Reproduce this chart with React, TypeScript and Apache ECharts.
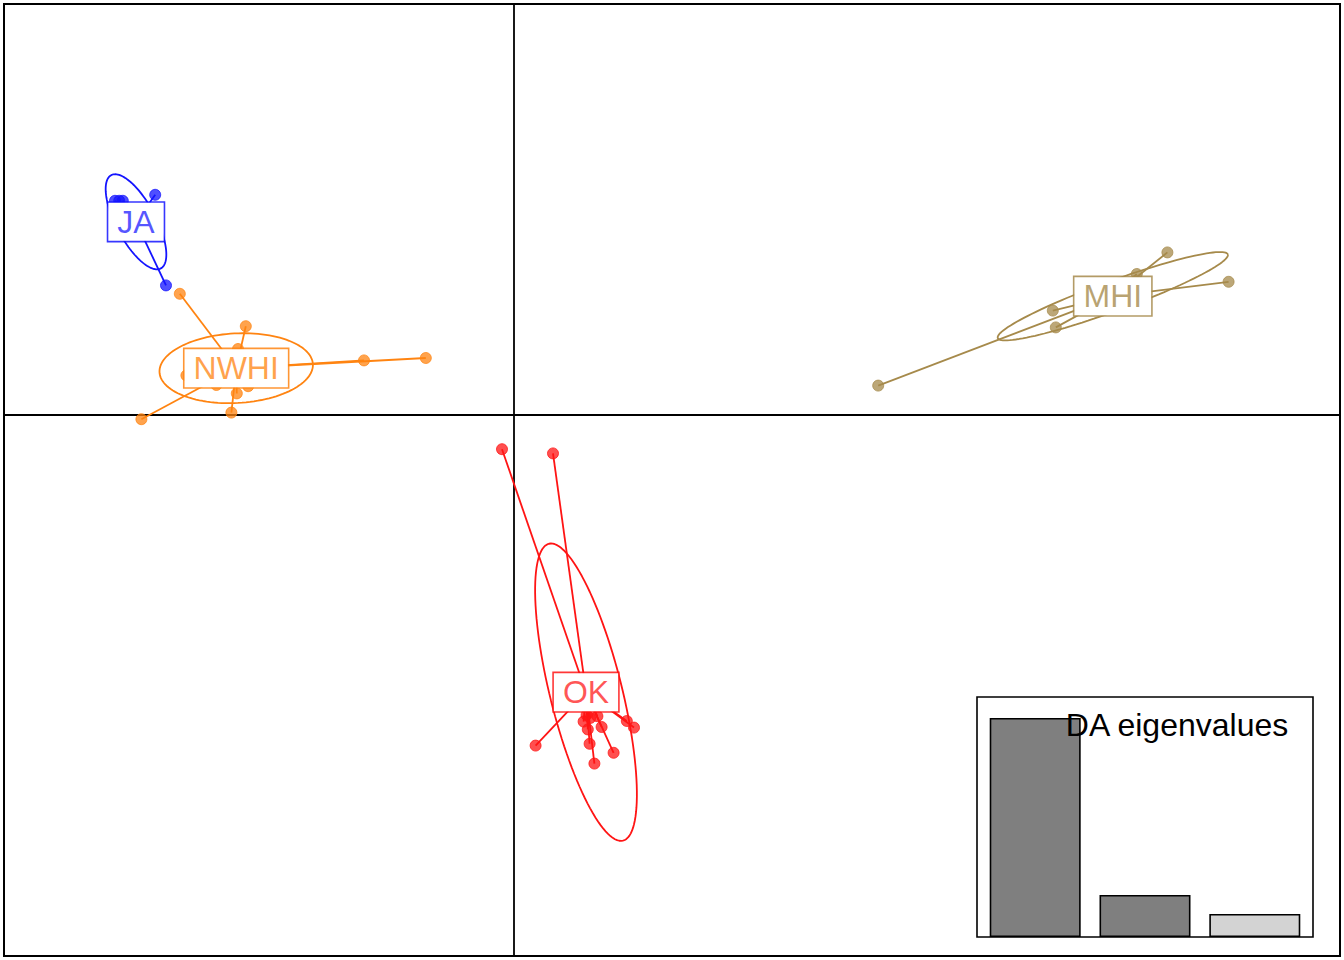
import React, { useEffect, useRef } from "react";
import * as echarts from "echarts";

// Group names and colours
const GROUPS = ["JA", "NWHI", "MHI", "OK"];
const COLORS = ["#1414ff", "#ff8411", "#a68a4b", "#ff1414"];
const LABEL_COLORS = ["rgba(20,20,255,0.72)", "rgba(255,132,17,0.75)", "rgba(166,138,75,0.78)", "rgba(255,20,20,0.72)"];
const BOX_COLORS = ["rgba(20,20,255,0.85)", "rgba(255,132,17,0.85)", "rgba(166,138,75,0.85)", "rgba(255,20,20,0.85)"];

// Group centroids (LD1, LD2)
const CENTROIDS: [number, number][] = [
  [-6.3, 3.22],
  [-4.63, 0.78],
  [9.98, 1.98],
  [1.2, -4.62],
];

// Individual scores (LD1, LD2)
const JA_POINTS: [number, number][] = [
  [-6.65, 3.57],
  [-6.58, 3.57],
  [-6.52, 3.57],
  [-5.98, 3.67],
  [-5.8, 2.16],
];
const NWHI_POINTS: [number, number][] = [
  [-5.57, 2.02],
  [-4.47, 1.48],
  [-4.6, 1.1],
  [-2.5, 0.91],
  [-1.47, 0.95],
  [-5.46, 0.66],
  [-4.96, 0.5],
  [-4.62, 0.36],
  [-4.43, 0.48],
  [-4.71, 0.04],
  [-6.21, -0.07],
];
const MHI_POINTS: [number, number][] = [
  [6.07, 0.49],
  [8.98, 1.74],
  [9.03, 1.46],
  [10.38, 2.35],
  [10.89, 2.71],
  [11.91, 2.22],
];
const OK_POINTS: [number, number][] = [
  [-0.2, -0.57],
  [0.65, -0.64],
  [0.36, -5.51],
  [1.16, -5.11],
  [1.23, -5.24],
  [1.26, -5.48],
  [1.34, -5.81],
  [1.39, -5.02],
  [1.46, -5.2],
  [1.66, -5.63],
  [1.88, -5.1],
  [2.0, -5.21],
  [1.21, -5.0],
  [1.27, -5.05],
];
const POINTS = [JA_POINTS, NWHI_POINTS, MHI_POINTS, OK_POINTS];

// Inertia ellipses: semi-axes and orientation (degrees)
const ELLIPSE_A = [0.88, 1.28, 2.04, 2.55];
const ELLIPSE_B = [0.33, 0.58, 0.25, 0.6];
const ELLIPSE_ANGLE = [-62, 3, 20, -76];

// DA eigenvalues inset
const EIG_POS = [0.7, 1.9, 3.1];
const EIGENVALUES = [21.9, 4.2, 2.3];
const EIG_COLORS = ["#7f7f7f", "#7f7f7f", "#d3d3d3"];

const X_MIN = -8.5;
const X_MAX = 13.7667;
const Y_MIN = -9.0167;
const Y_MAX = 6.85;

function ellipsePoints(i: number): [number, number][] {
  const [cx, cy] = CENTROIDS[i];
  const a = ELLIPSE_A[i];
  const b = ELLIPSE_B[i];
  const th = (ELLIPSE_ANGLE[i] * Math.PI) / 180;
  const out: [number, number][] = [];
  for (let k = 0; k <= 120; k++) {
    const t = (k / 120) * Math.PI * 2;
    out.push([
      cx + a * Math.cos(t) * Math.cos(th) - b * Math.sin(t) * Math.sin(th),
      cy + a * Math.cos(t) * Math.sin(th) + b * Math.sin(t) * Math.cos(th),
    ]);
  }
  return out;
}

export default function App() {
  const ref = useRef<HTMLDivElement>(null);
  useEffect(() => {
    if (!ref.current) return;
    const chart = echarts.init(ref.current, undefined, { renderer: "svg" });
    const FONT = "Liberation Sans";
    const series: any[] = [];
    GROUPS.forEach((g, i) => {
      series.push({
        type: "line",
        name: g + " ellipse",
        xAxisIndex: 0,
        yAxisIndex: 0,
        data: ellipsePoints(i),
        showSymbol: false,
        symbol: "none",
        smooth: false,
        lineStyle: { color: COLORS[i], width: 1.8 },
        z: 2,
        silent: true,
      });
      series.push({
        type: "lines",
        name: g + " stars",
        coordinateSystem: "cartesian2d",
        xAxisIndex: 0,
        yAxisIndex: 0,
        data: POINTS[i].map((p) => ({ coords: [CENTROIDS[i], p] })),
        lineStyle: { color: COLORS[i], width: 1.8, opacity: 1 },
        z: 3,
        silent: true,
      });
      series.push({
        type: "scatter",
        name: g,
        xAxisIndex: 0,
        yAxisIndex: 0,
        data: POINTS[i],
        symbol: "circle",
        symbolSize: 11,
        itemStyle: { color: COLORS[i], opacity: 0.75, borderColor: COLORS[i], borderWidth: 1 },
        z: 4,
        silent: true,
      });
    });
    series.push({
      type: "scatter",
      name: "labels",
      xAxisIndex: 0,
      yAxisIndex: 0,
      symbolSize: 1,
      itemStyle: { opacity: 1, color: "transparent" },
      data: GROUPS.map((g, i) => ({
        value: CENTROIDS[i],
        name: g,
        label: {
          color: LABEL_COLORS[i],
          borderColor: BOX_COLORS[i],
        },
      })),
      label: {
        show: true,
        position: "inside",
        formatter: (p: any) => p.name,
        fontFamily: FONT,
        fontSize: 32,
        lineHeight: 32,
        backgroundColor: "#ffffff",
        borderWidth: 1.6,
        padding: [3, 9, 3, 9],
      },
      z: 10,
      silent: true,
    });
    series.push({
      type: "bar",
      name: "DA eigenvalues",
      xAxisIndex: 1,
      yAxisIndex: 1,
      data: EIGENVALUES.map((v, i) => ({
        value: [EIG_POS[i], v],
        itemStyle: { color: EIG_COLORS[i] },
      })),
      barWidth: 91,
      itemStyle: { borderColor: "#000", borderWidth: 1.6 },
      z: 20,
      silent: true,
    });

    chart.setOption({
      animation: false,
      backgroundColor: "#ffffff",
      title: {
        text: "DA eigenvalues",
        right: 54,
        top: 709,
        padding: 0,
        textStyle: { fontFamily: FONT, fontSize: 32, fontWeight: "normal", color: "#000" },
        z: 30,
      },
      grid: [
        {
          left: 4,
          top: 4,
          width: 1336,
          height: 952,
          show: true,
          borderColor: "#000",
          borderWidth: 2,
          backgroundColor: "transparent",
        },
        {
          left: 977,
          top: 697,
          width: 336,
          height: 240,
          show: true,
          borderColor: "#000",
          borderWidth: 1.6,
          backgroundColor: "#ffffff",
          z: 15,
        },
      ],
      xAxis: [
        {
          type: "value",
          gridIndex: 0,
          min: X_MIN,
          max: X_MAX,
          axisLine: { show: true, onZero: true, lineStyle: { color: "#000", width: 1.8 } },
          axisTick: { show: false },
          axisLabel: { show: false },
          splitLine: { show: false },
          z: 1,
        },
        {
          type: "value",
          gridIndex: 1,
          min: 0.064,
          max: 3.736,
          show: false,
          splitLine: { show: false },
        },
      ],
      yAxis: [
        {
          type: "value",
          gridIndex: 0,
          min: Y_MIN,
          max: Y_MAX,
          axisLine: { show: true, onZero: true, lineStyle: { color: "#000", width: 1.8 } },
          axisTick: { show: false },
          axisLabel: { show: false },
          splitLine: { show: false },
          z: 1,
        },
        {
          type: "value",
          gridIndex: 1,
          min: 0,
          max: 24,
          show: false,
          splitLine: { show: false },
        },
      ],
      series,
    });
    return () => chart.dispose();
  }, []);
  return (
    <div
      ref={ref}
      style={{ position: "absolute", left: 0, top: 0, width: 1344, height: 960 }}
    />
  );
}
